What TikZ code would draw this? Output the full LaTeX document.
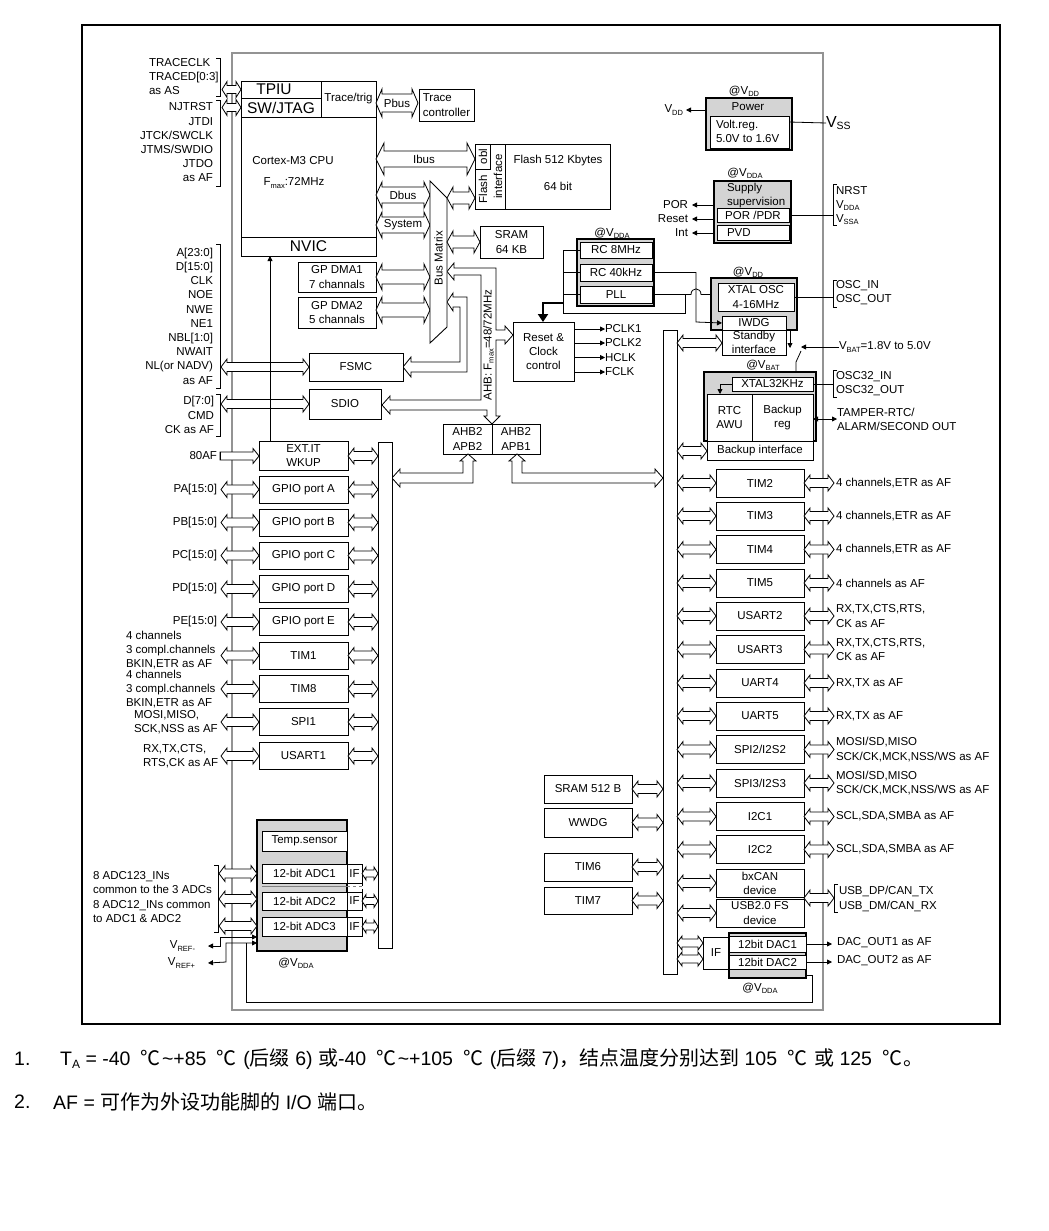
\documentclass[tikz,border=0pt]{standalone}
\usepackage{fontspec}
\setmainfont{Liberation Sans}
\newfontfamily\cjk{Noto Sans CJK SC}
\usetikzlibrary{arrows.meta}
\definecolor{gfill}{HTML}{D4D4D4}
\definecolor{frameg}{HTML}{939393}
\newcommand\fsz{\fontsize{11.5}{14.2}\selectfont}
\newcommand\bigsz{\fontsize{15.5}{17}\selectfont}
\newcommand\subs[1]{\raisebox{-0.35ex}{\fontsize{7.5}{8}\selectfont #1}}
\newcommand\cj[1]{{\cjk\fontsize{20}{22}\selectfont #1}}
\newcommand\degc{\hspace{10pt}\cj{℃}\hspace{1.5pt}}
\tikzset{
  box/.style={draw, fill=white, line width=0.9pt, inner sep=0pt, outer sep=0pt, align=center, font=\fsz},
  gbox/.style={box, fill=gfill, line width=1.1pt},
  lbl/.style={inner sep=0pt, outer sep=0pt, font=\fsz, align=left},
  rlbl/.style={lbl, align=right, anchor=east},
  wl/.style={lbl, anchor=west},
  busl/.style={draw, fill=white, line width=0.8pt, line join=miter},
  thinl/.style={line width=0.8pt},
  tip/.style={thinl, -{Triangle[length=5pt,width=5pt]}},
  btip/.style={thinl, {Triangle[length=5pt,width=5pt]}-{Triangle[length=5pt,width=5pt]}},
  fnote/.style={anchor=west, inner sep=0pt, font=\fontsize{19.5}{22}\selectfont},
}
\newcommand\mkbox[7][box]{\node[#1, minimum width={(#5)-(#3)}, minimum height={(#6)-(#4)}] (#2) at ({((#3)+(#5))/2},{((#4)+(#6))/2}) {#7};}
\newcommand\busLR[6]{\path[busl] (#4,#6) -- ({(#4)+(#3)},{(#6)-(#2)}) -- ({(#4)+(#3)},{(#6)-(#1)}) -- ({(#5)-(#3)},{(#6)-(#1)}) -- ({(#5)-(#3)},{(#6)-(#2)}) -- (#5,#6) -- ({(#5)-(#3)},{(#6)+(#2)}) -- ({(#5)-(#3)},{(#6)+(#1)}) -- ({(#4)+(#3)},{(#6)+(#1)}) -- ({(#4)+(#3)},{(#6)+(#2)}) -- cycle;}
\newcommand\busR[6]{\path[busl] (#4,{(#6)-(#1)}) -- ({(#5)-(#3)},{(#6)-(#1)}) -- ({(#5)-(#3)},{(#6)-(#2)}) -- (#5,#6) -- ({(#5)-(#3)},{(#6)+(#2)}) -- ({(#5)-(#3)},{(#6)+(#1)}) -- (#4,{(#6)+(#1)}) -- cycle;}
\newcommand\sbus[3]{\busLR{4.5}{8}{6}{#1}{#2}{#3}}
\newcommand\rrow[4]{\mkbox{#1}{716}{#2-14}{804}{#2+14}{#3}\sbus{677}{716}{#2}\sbus{804}{834}{#2}\node[wl] (#1o) at (836,#2) {#4};}
\newcommand\lrow[4]{\mkbox{#1}{259}{#2-13.5}{348}{#2+13.5}{#3}\sbus{221}{259}{#2}\sbus{348}{378}{#2}\node[rlbl] (#1i) at (217,#2) {#4};}
\newcommand\lbrk[3]{\draw[thinl] (#1-4,#2) -- (#1,#2) -- (#1,#3) -- (#1-4,#3);}
\newcommand\rbrk[3]{\draw[thinl] (#1+4,#2) -- (#1,#2) -- (#1,#3) -- (#1+4,#3);}
\begin{document}
\begin{tikzpicture}[x=1pt,y=-1pt]
\useasboundingbox (0,0) rectangle (1049,1231);
\fill[white] (0,0) rectangle (1049,1231);
% frames
\draw[line width=1.3pt] (82,25) rectangle (1000,1024);
\draw[frameg, line width=2pt] (232,53) rectangle (823,1010);

% ---------- CPU ----------
\mkbox{cpu}{241}{81}{376}{256}{}
\mkbox{tpiu}{241}{81}{321}{98}{}
\node[lbl, font=\bigsz] (tpiut) at (274,89.5) {TPIU};
\mkbox{jtag}{241}{98}{321}{117}{\bigsz SW/JTAG}
\mkbox{trig}{321}{81}{376}{117}{Trace/trig}
\mkbox{nvic}{241}{237}{376}{256}{\bigsz NVIC}
\node[lbl] (cpun) at (293,161) {Cortex-M3 CPU};
\node[lbl] (fmax) at (294,183) {F\subs{max}:72MHz};

% trace / jtag pins
\node[wl] (trl) at (149,76.5) {TRACECLK\\TRACED[0:3]\\as AS};
\lbrk{220}{58}{96}
\busLR{4}{8}{5}{222}{241}{89.5}
\node[rlbl] (jtl) at (213,142.5) {NJTRST\\JTDI\\JTCK/SWCLK\\JTMS/SWDIO\\JTDO\\as AF};
\lbrk{220}{100}{186}
\busLR{4}{8}{5}{222}{241}{107.5}

% Pbus / trace controller
\busLR{9}{14}{6}{376}{418}{103}
\node[lbl] (pbus) at (397,103) {Pbus};
\mkbox{tctl}{419}{89}{474}{121}{}
\node[lbl] at (446.5,105) {Trace\\controller};

% Ibus, Dbus, System, DMA
\busLR{8}{16}{8}{376}{475}{159}
\node[lbl] (ibus) at (424,159) {Ibus};
\busLR{8}{13}{6}{376}{430}{195}
\node[lbl] (dbus) at (403,195) {Dbus};
\busLR{8}{13}{6}{376}{430}{225}
\node[lbl] (sysb) at (403,225) {System};
\mkbox{dma1}{298}{262}{376}{292}{GP DMA1\\7 channals}
\mkbox{dma2}{298}{297}{376}{328}{GP DMA2\\5 channals}
\busLR{7}{13}{6}{376}{430}{277}
\busLR{7}{13}{6}{376}{430}{310}

% AHB path (bus matrix -> AHB2 bridges, reset, SDIO)
\path[busl] (447,271.5) -- (454,263) -- (454,268) -- (496,268) -- (496,330) -- (505,330) -- (505,326) -- (513,335) -- (505,344) -- (505,340) -- (496,340) -- (496,416) -- (500,416) -- (492,424) -- (484,416) -- (487,416) -- (487,410) -- (390,410) -- (390,414) -- (382,405) -- (390,396) -- (390,400) -- (481,400) -- (481,275) -- (454,275) -- (454,280) -- cycle;
\node[lbl, rotate=90] (ahbl) at (488.5,345) {AHB: F\subs{max}=48/72MHz};
% FSMC path
\path[busl] (447,302) -- (453,293) -- (453,297) -- (467,297) -- (467,372) -- (411,372) -- (411,377) -- (403,367) -- (411,357) -- (411,362) -- (460,362) -- (460,307) -- (453,307) -- (453,311) -- cycle;

% bus matrix
\draw[line width=0.9pt, fill=white] (430,181) -- (447,198) -- (447,327) -- (430,343) -- cycle;
\node[lbl, rotate=90] (bm) at (438.5,258) {Bus Matrix};

% flash & sram
\busLR{6}{11}{6}{447}{475}{198}
\busLR{6}{11}{6}{447}{480}{242}
\mkbox{flash}{475}{144}{610}{209}{}
\draw[thinl] (490,144) -- (490,169) -- (475,169);
\draw[thinl] (505,144) -- (505,209);
\node[lbl, rotate=90] (obl) at (483,156.5) {obl};
\node[lbl, rotate=90] (flt) at (483,189) {Flash};
\node[lbl, rotate=90] (ift) at (498,176.5) {interface};
\node[lbl] (fl1) at (558,161) {Flash 512 Kbytes};
\node[lbl] (fl2) at (558,186) {64 bit};
\mkbox{sram}{480}{226}{543}{258}{SRAM\\64 KB}

% FSMC / SDIO
\mkbox{fsmc}{309}{353}{403}{381}{FSMC}
\mkbox{sdio}{309}{389}{381}{419}{SDIO}
\sbus{221}{309}{367}
\sbus{221}{309}{404}
\node[rlbl] (fsl) at (213,316) {A[23:0]\\D[15:0]\\CLK\\NOE\\NWE\\NE1\\NBL[1:0]\\NWAIT\\NL(or NADV)\\as AF};
\lbrk{220}{244}{388}
\node[rlbl] (sdl) at (214,415) {D[7:0]\\CMD\\CK as AF};
\lbrk{220}{394}{436}

% Reset & clock
\mkbox{rcc}{513}{322}{574}{381}{Reset \&\\Clock\\control}
\foreach \n/\y in {PCLK1/329,PCLK2/343,HCLK/357.5,FCLK/372}{
  \node[wl] (\n) at (605,\y) {\n};
  \draw[tip] (574,\y) -- (\n.west);
}

% AHB2 bridges
\mkbox{apb2}{443}{424}{492}{454}{AHB2\\APB2}
\mkbox{apb1}{492}{424}{540}{454}{AHB2\\APB1}
\path[busl] (468,454) -- (476,461) -- (473,461) -- (473,483) -- (400,483) -- (400,487) -- (392,478) -- (400,469) -- (400,473) -- (463,473) -- (463,461) -- (460,461) -- cycle;
\path[busl] (517,454) -- (525,461) -- (522,461) -- (522,473) -- (655,473) -- (655,469) -- (663,478) -- (655,487) -- (655,483) -- (512,483) -- (512,461) -- (509,461) -- cycle;

% bus bars
\mkbox{lbar}{378}{442}{392}{948}{}
\mkbox{rbar}{663}{330}{677}{974}{}

% EXT.IT
\mkbox{exti}{259}{441}{348}{470}{EXT.IT\\WKUP}
\busR{4}{7.5}{6}{220}{259}{456}
\draw[thinl] (220,452) -- (220,460);
\sbus{348}{378}{456}
\node[rlbl] (afl) at (217,456) {80AF};
\draw[tip] (exti.north -| 270,0) -- (nvic.south -| 270,0);

% left column
\lrow{gpa}{489.5}{GPIO port A}{PA[15:0]}
\lrow{gpb}{522.5}{GPIO port B}{PB[15:0]}
\lrow{gpc}{555.5}{GPIO port C}{PC[15:0]}
\lrow{gpd}{589}{GPIO port D}{PD[15:0]}
\lrow{gpe}{622}{GPIO port E}{PE[15:0]}
\lrow{tim1}{655.5}{TIM1}{}
\lrow{tim8}{689}{TIM8}{}
\lrow{spi1}{722}{SPI1}{}
\lrow{usart1}{756}{USART1}{}
\node[wl] (t1l) at (126,650) {4 channels\\3 compl.channels\\BKIN,ETR as AF};
\node[wl] (t8l) at (126,689) {4 channels\\3 compl.channels\\BKIN,ETR as AF};
\node[wl] (s1l) at (134,722) {MOSI,MISO,\\SCK,NSS as AF};
\node[wl] (u1l) at (143,756) {RX,TX,CTS,\\RTS,CK as AF};

% ADC
\mkbox[gbox]{adcg}{257}{820}{347}{951}{}
\mkbox{temp}{262}{831}{347}{851}{Temp.sensor}
\mkbox{adc1}{262}{864}{347}{883}{12-bit ADC1}
\mkbox{adc2}{262}{892}{347}{910}{12-bit ADC2}
\mkbox{adc3}{262}{917}{347}{936}{12-bit ADC3}
\mkbox{if1}{347}{864}{362}{883}{IF}
\mkbox{if2}{347}{892}{362}{910}{IF}
\mkbox{if3}{347}{917}{362}{936}{IF}
\draw[thinl, dashed] (362,883) -- (362,892);
\draw[thinl, gray] (262,886) -- (347,886);
\draw[thinl, gray, dashed] (347,886) -- (362,886);
\busLR{3.5}{6.5}{4}{362}{378}{873.5}
\busLR{3.5}{6.5}{4}{362}{378}{901}
\busLR{3.5}{6.5}{4}{362}{378}{926.5}
\busLR{4.5}{8}{6}{219}{257}{873.5}
\busLR{4.5}{8}{6}{219}{257}{899}
\busLR{4.5}{8}{6}{219}{257}{926}
\lbrk{218}{865}{932}
\node[wl] (adcl) at (93,897) {8 ADC123\_INs\\common to the 3 ADCs\\8 ADC12\_INs common\\to ADC1 \& ADC2};
\node[lbl] (adcv) at (296,963) {@V\subs{DDA}};
\node[rlbl] (vrm) at (195,946) {V\subs{REF-}};
\node[rlbl] (vrp) at (195,963) {V\subs{REF+}};
\draw[btip] (vrm.east -| 208,0) -- (220,946) -- (220,937) -- (adcg.west |- 0,937);
\draw[btip] (vrp.east -| 208,0) -- (226,962) -- (226,943) -- (adcg.west |- 0,943);
\draw[thinl] (246,943) -- (246,1002) -- (812,1002) -- (812,975) -- (806,975);

% right column
\rrow{tim2}{483}{TIM2}{4 channels,ETR as AF}
\rrow{tim3}{516}{TIM3}{4 channels,ETR as AF}
\rrow{tim4}{549.5}{TIM4}{4 channels,ETR as AF}
\rrow{tim5}{583}{TIM5}{4 channels as AF}
\rrow{usart2}{616}{USART2}{RX,TX,CTS,RTS,\\CK as AF}
\rrow{usart3}{649.5}{USART3}{RX,TX,CTS,RTS,\\CK as AF}
\rrow{uart4}{683}{UART4}{RX,TX as AF}
\rrow{uart5}{716}{UART5}{RX,TX as AF}
\rrow{spi2}{749.5}{SPI2/I2S2}{MOSI/SD,MISO\\SCK/CK,MCK,NSS/WS as AF}
\rrow{spi3}{783}{SPI3/I2S3}{MOSI/SD,MISO\\SCK/CK,MCK,NSS/WS as AF}
\rrow{i2c1}{816.5}{I2C1}{SCL,SDA,SMBA as AF}
\rrow{i2c2}{849.5}{I2C2}{SCL,SDA,SMBA as AF}
\mkbox{can}{716}{869}{804}{897}{bxCAN\\device}
\mkbox{usb}{716}{899}{804}{927}{USB2.0 FS\\device}
\sbus{677}{716}{883}
\sbus{677}{716}{913}
\sbus{804}{834}{898}
\rbrk{834}{884}{912}
\node[wl] (usbl) at (839,899) {USB\_DP/CAN\_TX\\USB\_DM/CAN\_RX};

% DAC
\mkbox{dacif}{703}{937}{729}{969}{IF}
\mkbox[gbox]{dacg}{729}{933}{806}{978}{}
\mkbox{dac1}{729}{936}{806}{952}{12bit DAC1}
\mkbox{dac2}{729}{955}{806}{969}{12bit DAC2}
\busLR{4}{7}{5}{677}{703}{943}
\busLR{4}{7}{5}{677}{703}{959}
\node[wl] (do1) at (837,943) {DAC\_OUT1 as AF};
\node[wl] (do2) at (837,961) {DAC\_OUT2 as AF};
\draw[tip] (dac1.east) -- (832,944);
\draw[tip] (dac2.east) -- (832,962);
\node[lbl] (dacv) at (760,988) {@V\subs{DDA}};

% left-of-bar peripherals
\mkbox{sram5}{544}{775}{632}{803}{SRAM 512 B}
\mkbox{wwdg}{544}{808}{632}{837}{WWDG}
\mkbox{tim6}{544}{853}{632}{881}{TIM6}
\mkbox{tim7}{544}{887}{632}{914}{TIM7}
\sbus{632}{663}{789}
\sbus{632}{663}{822.5}
\sbus{632}{663}{867}
\sbus{632}{663}{900.5}

% ---------- power ----------
\node[lbl] (pv) at (744,91) {@V\subs{DD}};
\mkbox[gbox]{pwr}{706}{98}{792}{150}{}
\node[lbl] (pwt) at (748,107) {Power};
\mkbox{vreg}{710}{116}{789}{148}{}
\node[wl] (vrt) at (716,131) {Volt.reg.\\5.0V to 1.6V};
\node[rlbl] (vddl) at (683,110) {V\subs{DD}};
\draw[tip] (pwr.west |- 0,110) -- (686,110);
\node[wl] (vss) at (826,123) {\fontsize{16}{18}\selectfont V\raisebox{-0.3ex}{\fontsize{10.5}{11}\selectfont SS}};
\draw[thinl] (vreg.east |- 0,122) -- (vss.west);

\node[lbl] (sv) at (745,173) {@V\subs{DDA}};
\mkbox[gbox]{sup}{714}{181}{791}{243}{}
\node[wl] (supt) at (727,195.5) {Supply\\supervision};
\mkbox{por}{717}{208}{789}{222}{POR /PDR}
\mkbox{pvd}{717}{225}{789}{240}{}
\node[wl] (pvdt) at (727,232.5) {PVD};
\node[rlbl] (porl) at (688,205) {POR};
\node[rlbl] (rstl) at (688,219) {Reset};
\node[rlbl] (intl) at (688,233) {Int};
\draw[tip] (714,205) -- (692,205);
\draw[tip] (714,219) -- (692,219);
\draw[tip] (714,233) -- (692,233);
\draw[thinl] (por.east) -- (833,215);
\rbrk{833}{184}{225}
\node[wl] (nrst) at (836,205.5) {NRST\\V\subs{DDA}\\V\subs{SSA}};

% ---------- clocks ----------
\node[lbl] (rcv) at (612,233) {@V\subs{DDA}};
\mkbox[gbox]{rcg}{577}{239}{654}{306}{}
\mkbox{rc8}{580}{242}{652}{258}{RC 8MHz}
\mkbox{rc40}{580}{264}{652}{281}{RC 40kHz}
\mkbox{pll}{580}{286}{652}{303}{PLL}
\draw[thinl] (rc8.west) -- (563,250) -- (563,313) -- (685,313) -- (685,294.5);
\draw[thinl] (rc40.west) -- (563,272.5);
\draw[thinl] (pll.west) -- (563,294.5);
\draw[line width=2pt, -{Triangle[length=8pt,width=10pt]}] (563,303) -- (543,303) -- (rcc.north -| 543,0);

\node[lbl] (xv) at (748,272) {@V\subs{DD}};
\mkbox[gbox]{xg}{711}{278}{797}{330}{}
\mkbox{xtal}{718}{283}{794}{311}{XTAL OSC\\4-16MHz}
\mkbox{iwdg}{722}{316}{786}{330}{IWDG}
\mkbox{stby}{722}{330}{786}{355}{Standby\\interface}
\draw[thinl] (pll.east) -- (691,294.5) .. controls (691,287) and (701,287) .. (701,294.5) -- (xg.west |- 0,294.5);
\draw[tip] (rc40.east) -- (696,272.5) -- (696,322) -- (iwdg.west);
\draw[thinl] (xtal.east |- 0,297) -- (833,297);
\rbrk{833}{280}{307}
\node[wl] (oscl) at (836,293) {OSC\_IN\\OSC\_OUT};
\sbus{677}{722}{343}
\draw[tip] (790,330) -- (790,348);
\node[wl] (vbat) at (839,347) {V\subs{BAT}=1.8V to 5.0V};
\draw[tip] (vbat.west) -- (801,347);
\draw[thinl] (796,372) -- (796,362) -- (801,351);

% backup domain
\node[lbl] (bv) at (763,365) {@V\subs{BAT}};
\mkbox[gbox]{bkg}{704}{372}{816}{441}{}
\mkbox{x32}{732}{377}{813}{391}{XTAL32KHz}
\mkbox{rtc}{707}{394}{752}{441}{RTC\\AWU}
\mkbox{bkreg}{752}{394}{813}{441}{Backup\\reg}
\mkbox{bkif}{707}{441}{813}{460}{Backup interface}
\draw[tip] (x32.west) -- (720,384) -- (720,394);
\draw[thinl] (x32.east) -- (833,384);
\rbrk{833}{370}{397}
\node[wl] (osc32) at (836,384) {OSC32\_IN\\OSC32\_OUT};
\node[wl] (tamp) at (837,419) {TAMPER-RTC/\\ALARM/SECOND OUT};
\draw[btip] (bkreg.east |- 0,419) -- (tamp.west |- 0,419);
\sbus{677}{707}{451}

% ---------- footnotes ----------
\node[fnote] (n1) at (14,1059) {1.};
\node[fnote] (t1) at (60,1059) {T\raisebox{-0.3ex}{\fontsize{12}{12}\selectfont A} = -40\degc\textasciitilde+85\degc\ (\cj{后缀} 6) \cj{或}-40\degc\textasciitilde+105\degc\ (\cj{后缀} 7)\cj{，结点温度分别达到} 105\degc\ \cj{或} 125\degc\cj{。}};
\node[fnote] (n2) at (14,1102) {2.};
\node[fnote] (t2) at (53,1102) {AF = \cj{可作为外设功能脚的} I/O \cj{端口。}};
\end{tikzpicture}
\end{document}
